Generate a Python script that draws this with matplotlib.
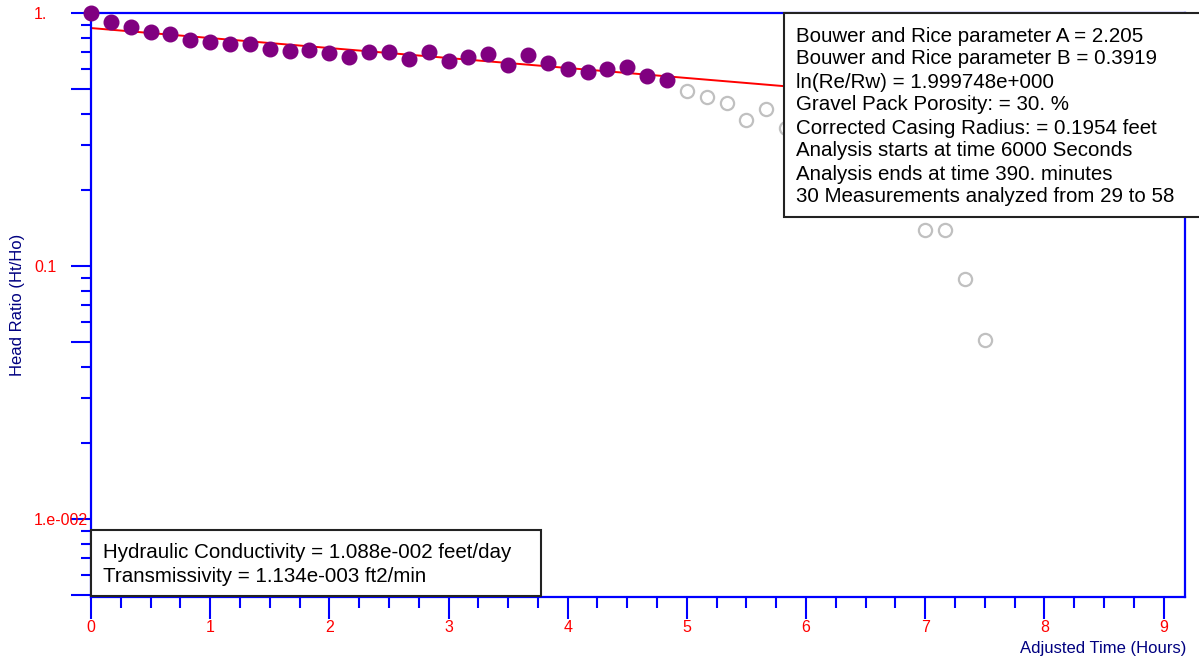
import matplotlib
matplotlib.use("Agg")
import matplotlib.pyplot as plt
from matplotlib.patches import Rectangle
from matplotlib.ticker import FixedLocator, FixedFormatter

plt.rcParams['font.family'] = ['Liberation Sans', 'DejaVu Sans']

# measurements used in the analysis (hours, head ratio)
used_time = [k / 6 for k in range(30)]
used_ratio = [1.0, 0.921, 0.880, 0.841, 0.826, 0.782, 0.768, 0.754, 0.754, 0.721,
              0.708, 0.714, 0.695, 0.670, 0.701, 0.701, 0.658, 0.701, 0.646, 0.670,
              0.688, 0.623, 0.682, 0.634, 0.601, 0.584, 0.601, 0.612, 0.564, 0.543]

# measurements not used
other_time = [5.0, 5.1667, 5.3333, 5.5, 5.6667, 5.8333, 7.0, 7.1667, 7.3333, 7.5]
other_ratio = [0.492, 0.466, 0.441, 0.378, 0.417, 0.351, 0.1388, 0.1388, 0.0888, 0.0510]

# fitted straight line
fit_time = [0.0, 9.18]
fit_ratio = [0.872, 0.3785]

info_lines = ["Bouwer and Rice parameter A = 2.205",
              "Bouwer and Rice parameter B = 0.3919",
              "ln(Re/Rw) = 1.999748e+000",
              "Gravel Pack Porosity: = 30. %",
              "Corrected Casing Radius: = 0.1954 feet",
              "Analysis starts at time 6000 Seconds",
              "Analysis ends at time 390. minutes",
              "30 Measurements analyzed from 29 to 58"]
result_lines = ["Hydraulic Conductivity = 1.088e-002 feet/day",
                "Transmissivity = 1.134e-003 ft2/min"]

W, H = 1199, 666
fig = plt.figure(figsize=(W / 100, H / 100), dpi=100)
ax = fig.add_axes([91 / W, 1 - 597 / H, (1185 - 91) / W, (597 - 13) / H])

ax.plot(fit_time, fit_ratio, color='red', lw=1.4, zorder=2)
ax.plot(other_time, other_ratio, 'o', mfc='none', mec='#c0c0c0', ms=9.5, mew=1.6,
        zorder=3, clip_on=False)
ax.plot(used_time, used_ratio, 'o', color='#800080', ms=10.5, zorder=4, clip_on=False)

ax.set_yscale('log')
ax.set_ylim(0.00492, 1.0)
ax.set_xlim(0, 9.18)

ax.yaxis.set_major_locator(FixedLocator([0.005, 0.01, 0.05, 0.1, 0.5, 1.0]))
ax.yaxis.set_major_formatter(FixedFormatter(['', '1.e-002', '', '0.1', '', '1.']))
ax.yaxis.set_minor_locator(FixedLocator([k * 10.0 ** d for d in (-3, -2, -1)
                                          for k in range(2, 10) if k != 5]))
ax.yaxis.set_minor_formatter(FixedFormatter([]))

ax.xaxis.set_major_locator(FixedLocator(range(10)))
ax.xaxis.set_minor_locator(FixedLocator([i / 4 for i in range(37) if i % 4]))

for s in ax.spines.values():
    s.set_color('blue')
    s.set_linewidth(1.6)

ax.tick_params(which='both', color='blue', width=1.5, direction='out',
               labelcolor='red', labelsize=11.5)
ax.tick_params(axis='y', which='major', length=14.4, pad=26.6)
ax.tick_params(axis='y', which='minor', length=7.2)
ax.tick_params(axis='x', which='major', length=15.8, pad=0.5)
ax.tick_params(axis='x', which='minor', length=7.9)
for lbl in ax.get_yticklabels():
    lbl.set_ha('left')

fig.text(1186 / W, 1 - 648 / H, "Adjusted Time (Hours)", ha='right', va='center',
         color='#000080', fontsize=12)
fig.text(18 / W, 1 - 305 / H, "Head Ratio (Ht/Ho)", ha='center', va='center',
         rotation=90, color='#000080', fontsize=12)

# parameter box (top right) and result box (bottom left)
fig.add_artist(Rectangle((784 / W, 1 - 217 / H), (1205 - 784) / W, (217 - 13) / H,
                         transform=fig.transFigure, facecolor='white',
                         edgecolor='#222222', lw=1.5, zorder=5))
for i, line in enumerate(info_lines):
    fig.text(796 / W, 1 - (36 + 23 * i) / H, line, ha='left', va='center',
             fontsize=14.8, color='black', zorder=6)

fig.add_artist(Rectangle((91 / W, 1 - 596 / H), (541 - 91) / W, (596 - 530) / H,
                         transform=fig.transFigure, facecolor='white',
                         edgecolor='#222222', lw=1.5, zorder=5))
for i, line in enumerate(result_lines):
    fig.text(103 / W, 1 - (552 + 24 * i) / H, line, ha='left', va='center',
             fontsize=14.8, color='black', zorder=6)

fig.savefig("out.png", dpi=100)
